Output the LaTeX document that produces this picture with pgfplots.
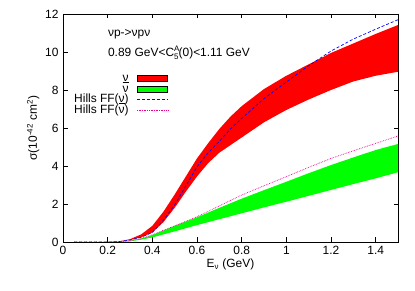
\documentclass[border=0pt]{standalone}
\usepackage{fontspec}
\setmainfont{Liberation Sans}
\usepackage{pgfplots}
\pgfplotsset{compat=1.18}
\newcommand{\nubar}{\leavevmode\hbox{\rlap{\rule[1.55ex]{0.52em}{0.45pt}}ν}}
\newcommand{\fsz}{\fontsize{12}{14}\selectfont}
\begin{document}
\begin{tikzpicture}
\useasboundingbox (-63bp,-49bp) rectangle (352bp,242bp);
\begin{axis}[
  scale only axis,
  width=335bp, height=228bp,
  xmin=0, xmax=1.5, ymin=0, ymax=12,
  xtick={0,0.2,0.4,0.6,0.8,1,1.2,1.4},
  ytick={0,2,4,6,8,10,12},
  minor tick num=0,
  tick align=inside,
  xtick pos=both, ytick pos=both,
  major tick length=4.5bp,
  axis line style={line width=0.7pt},
  every tick/.style={black, line width=0.6pt},
  /pgf/number format/assume math mode=true,
  ticklabel style={font=\fsz},
  label style={font=\fsz},
  xticklabel style={yshift=-1bp},
  yticklabel style={xshift=-1bp},
  xlabel={E\textsubscript{ν} (GeV)},
  ylabel={σ(10\textsuperscript{-42} cm\textsuperscript{2})},
  xlabel style={yshift=3bp},
  ylabel style={yshift=-1bp},
  legend style={draw=none, fill=none, at={(axis description cs:0.314,0.743)}, anchor=north east,
    font=\fsz, inner sep=0pt, row sep=0pt, column sep=8bp,
    nodes={inner sep=0pt, text height=8.5bp, text depth=2.3bp}},
  legend cell align=right,
  legend plot pos=right,
  legend image post style={xscale=1.8},
]
% nu band (upper then reversed lower)
\addplot[fill=red, draw=none, area legend] coordinates {
(0.1,0) (0.2,0.0) (0.25,0.03) (0.3,0.15) (0.35,0.4) (0.4,0.85) (0.45,1.6) (0.5,2.5) (0.55,3.45) (0.6,4.4)
(0.65,5.2) (0.7,5.95) (0.75,6.6) (0.8,7.15) (0.9,8.05) (1.0,8.75) (1.1,9.35) (1.2,9.95) (1.3,10.45) (1.4,10.95) (1.5,11.42)
(1.5,8.96) (1.4,8.75) (1.3,8.45) (1.2,8.0) (1.1,7.5) (1.0,6.95) (0.9,6.3) (0.8,5.5) (0.75,5.1) (0.7,4.7)
(0.65,4.15) (0.6,3.45) (0.55,2.65) (0.5,1.8) (0.45,1.05) (0.4,0.5) (0.35,0.25) (0.3,0.1) (0.25,0.02) (0.2,0) (0.1,0)
} -- cycle;
\addlegendentry{ν}
% nubar band
\addplot[fill=green, draw=none, area legend] coordinates {
(0.1,0) (0.2,0) (0.25,0.01) (0.3,0.06) (0.35,0.18) (0.4,0.36) (0.5,0.85) (0.6,1.3) (0.7,1.8) (0.8,2.28)
(0.9,2.73) (1.0,3.17) (1.1,3.62) (1.2,4.05) (1.3,4.45) (1.4,4.84) (1.5,5.16)
(1.5,3.67) (1.4,3.35) (1.3,3.05) (1.2,2.74) (1.1,2.43) (1.0,2.12) (0.9,1.82) (0.8,1.51) (0.7,1.2) (0.6,0.89)
(0.5,0.56) (0.4,0.24) (0.35,0.12) (0.3,0.04) (0.25,0.01) (0.2,0) (0.1,0)
} -- cycle;
\addlegendentry{\nubar}
% Hills FF nu
\addplot[blue, densely dashed, line width=0.7pt] coordinates {
(0.05,0) (0.2,0) (0.25,0.02) (0.3,0.1) (0.35,0.25) (0.4,0.5) (0.45,1.15) (0.5,1.95) (0.55,2.95) (0.6,3.95)
(0.65,4.7) (0.7,5.3) (0.75,5.95) (0.8,6.5) (0.9,7.55) (1.0,8.42) (1.1,9.28) (1.2,10.05) (1.3,10.68) (1.4,11.2) (1.5,11.7)
};
\addlegendentry{Hills FF(ν)}
% Hills FF nubar
\addplot[magenta, densely dotted, line width=0.7pt] coordinates {
(0.05,0) (0.2,0) (0.25,0.01) (0.3,0.06) (0.35,0.18) (0.4,0.38) (0.5,0.85) (0.6,1.33) (0.7,1.9) (0.8,2.47)
(0.9,2.96) (1.0,3.44) (1.1,3.93) (1.2,4.4) (1.3,4.8) (1.4,5.19) (1.5,5.58)
};
\addlegendentry{Hills FF(\nubar)}
\node[anchor=base west, font=\fsz, inner sep=0pt] at (rel axis cs:0.134,0.9) {νp->νpν};
\node[anchor=base west, font=\fsz, inner sep=0pt] at (rel axis cs:0.134,0.815)
  {0.89 GeV<C\makebox[0pt][l]{\raisebox{0.8ex}{\fontsize{8}{9}\selectfont A}}\raisebox{-0.5ex}{\fontsize{8}{9}\selectfont 5}(0)<1.11 GeV};
\end{axis}
\end{tikzpicture}
\end{document}
